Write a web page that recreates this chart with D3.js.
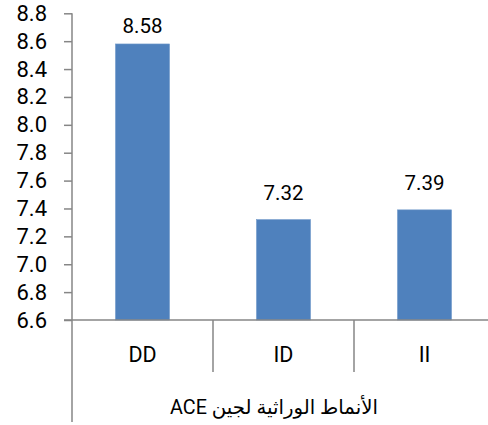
<!DOCTYPE html>
<html><head><meta charset="utf-8">
<script src="https://cdn.jsdelivr.net/npm/d3@7"></script>
<style>
html,body{margin:0;padding:0;background:#fff;}
svg{display:block;}
</style></head>
<body>
<div id="chart"></div>
<script>
const categories = ["DD", "ID", "II"];
const values = [8.58, 7.32, 7.39];
const valueLabels = ["8.58", "7.32", "7.39"];
const yTicks = [6.6, 6.8, 7.0, 7.2, 7.4, 7.6, 7.8, 8.0, 8.2, 8.4, 8.6, 8.8];
const axisTitle = "الأنماط الوراثية لجين ACE";

(function () {
const W = 488, H = 425;
const mLeft = 72, mRight = 495, mTop = 13.3, mBottom = 320;
const latin = "Roboto, 'Open Sans', sans-serif";

const svg = d3.select("#chart").append("svg").attr("width", W).attr("height", H);

const y = d3.scaleLinear().domain([6.6, 8.8]).range([mBottom, mTop]);
const pad = 1 - 54 / 141;
const x = d3.scaleBand().domain(categories).range([mLeft, mRight]).paddingInner(pad).paddingOuter(pad / 2);

// bars
svg.selectAll("rect.bar").data(values).join("rect")
  .attr("class", "bar")
  .attr("x", (d, i) => x(categories[i]))
  .attr("width", x.bandwidth())
  .attr("y", d => y(d))
  .attr("height", d => y(6.6) - y(d))
  .attr("fill", "#4F81BD")
  .attr("stroke", "#6E97C8").attr("stroke-width", 0.6);

// y axis
const yAxis = d3.axisLeft(y).tickValues(yTicks).tickFormat(d3.format(".1f")).tickSizeInner(8).tickSizeOuter(0).tickPadding(17);
const gy = svg.append("g").attr("transform", `translate(${mLeft},0)`).call(yAxis);
gy.select(".domain").remove();
gy.selectAll(".tick line").attr("stroke", "#868686").attr("stroke-width", 1.5);
gy.selectAll(".tick text").attr("font-family", latin).attr("font-size", 22).attr("fill", "#000");

// vertical axis line extending through the category area
svg.append("line").attr("x1", mLeft).attr("x2", mLeft).attr("y1", mTop).attr("y2", 422)
  .attr("stroke", "#868686").attr("stroke-width", 1.5);

// horizontal axis
svg.append("line").attr("x1", 64).attr("x2", W).attr("y1", mBottom).attr("y2", mBottom)
  .attr("stroke", "#868686").attr("stroke-width", 1.5);

// category separators
const step = x.step();
categories.slice(1).forEach((c) => {
  const sx = x(c) - x.paddingOuter() * step;
  svg.append("line").attr("x1", sx).attr("x2", sx).attr("y1", mBottom).attr("y2", 372)
    .attr("stroke", "#868686").attr("stroke-width", 1.5);
});

// category labels
svg.selectAll("text.cat").data(categories).join("text")
  .attr("class", "cat")
  .attr("x", d => x(d) + x.bandwidth() / 2)
  .attr("y", 361.7)
  .attr("text-anchor", "middle")
  .attr("font-family", latin).attr("font-size", 21.5).attr("fill", "#000")
  .text(d => d);

// data labels
svg.selectAll("text.val").data(values).join("text")
  .attr("class", "val")
  .attr("x", (d, i) => x(categories[i]) + x.bandwidth() / 2)
  .attr("y", d => Math.max(y(d) - 19.5, mTop + 20))
  .attr("text-anchor", "middle")
  .attr("font-family", latin).attr("font-size", 20.5).attr("fill", "#000")
  .text((d, i) => valueLabels[i]);

// axis title, fitted to the reference width
const title = svg.append("text")
  .attr("x", 274).attr("y", 414)
  .attr("text-anchor", "middle")
  .attr("direction", "rtl")
  .attr("font-family", "Roboto, 'DejaVu Sans', sans-serif")
  .attr("font-size", 21).attr("fill", "#000")
  .text(axisTitle);
const tw = title.node().getBBox().width;
if (tw > 0) title.attr("font-size", 21 * 208 / tw);
})();
</script>
</body></html>
